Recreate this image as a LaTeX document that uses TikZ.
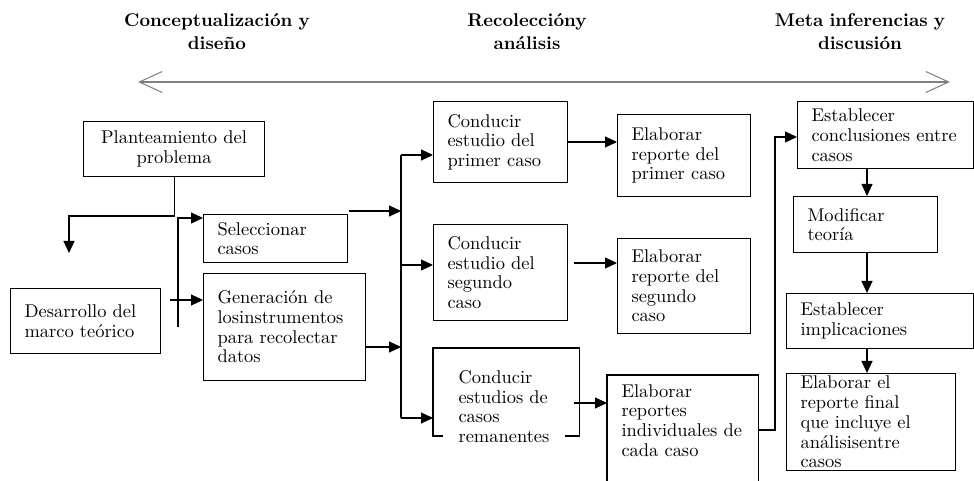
\documentclass[tikz,border=0pt]{standalone}
\usetikzlibrary{calc, arrows.meta}

\begin{document}
\begin{tikzpicture}[
  line width=0.6pt,
  box/.style={draw, rectangle, anchor=north west, inner xsep=0.28cm, inner ysep=0pt, align=left, font=\myfontbox},
  phasetitle/.style={align=center, text width=4.2cm, font=\myfonttitle},
  arr/.style={-{Triangle[length=0.24cm, width=0.22cm]}},
  phase/.style={gray, {Straight Barb[length=0.46cm, width=0.42cm]}-{Straight Barb[length=0.46cm, width=0.42cm]}}
]
\newcommand{\myfontbox}{\fontsize{10.5}{11.2}\selectfont}
\newcommand{\myfonttitle}{\fontsize{10.5}{13}\selectfont\bfseries}
\clip (0,0) rectangle (19.48,-9.62);
%Phases at the top
\node[phasetitle] (fase1) at (4.34,-0.63) {Conceptualizaci\'{o}n y\\dise\~{n}o};
\node[phasetitle] (fase2) at (10.54,-0.63) {Recolecci\'{o}ny\\an\'{a}lisis};
\node[phasetitle] (fase3) at (17.20,-0.63) {Meta inferencias y\\discusi\'{o}n};
\coordinate (phaseleft) at (2.76,-1.64);
\coordinate (phaseright) at (19.00,-1.64);
\draw[phase] (phaseleft) -- (phaseright);
%Conceptualization boxes
\node[box, minimum width=3.62cm, minimum height=1.10cm, text width=3.06cm, align=center] (plant) at (1.66,-2.42) {Planteamiento del\\problema};
\node[box, minimum width=3.00cm, minimum height=1.30cm, text width=2.44cm] (marco) at (0.20,-5.76) {Desarrollo del\\marco teórico};
\node[box, minimum width=2.88cm, minimum height=0.96cm, text width=2.32cm] (selec) at (4.06,-4.28) {Seleccionar\\casos};
\node[box, minimum width=3.24cm, minimum height=2.14cm, text width=2.68cm] (instr) at (4.06,-5.46) {Generación de\\losinstrumentos\\para recolectar\\datos};
%Collection boxes
\node[box, minimum width=2.68cm, minimum height=1.62cm, text width=2.12cm] (cond1) at (8.66,-2.02) {Conducir\\estudio del\\primer caso};
\node[box, minimum width=2.66cm, minimum height=1.64cm, text width=2.10cm] (elab1) at (12.34,-2.28) {Elaborar\\reporte del\\primer caso};
\node[box, minimum width=2.68cm, minimum height=1.92cm, text width=2.12cm] (cond2) at (8.66,-4.48) {Conducir\\estudio del\\segundo\\caso};
\node[box, minimum width=2.66cm, minimum height=1.90cm, text width=2.10cm] (elab2) at (12.34,-4.76) {Elaborar\\reporte del\\segundo\\caso};
\node[box, draw=none, minimum width=2.90cm, minimum height=2.32cm, inner xsep=0.5cm, text width=1.90cm] (cond3) at (8.66,-6.96) {Conducir\\estudios de\\casos\\remanentes};
\draw (8.86,-8.72) -- (cond3.north west |- 0,-8.72) -- (cond3.north west) -- (cond3.north east) -- (cond3.north east |- 0,-8.72) -- (11.30,-8.72);
\node[box, draw=none, minimum width=3.00cm, minimum height=1.80cm, text width=2.44cm] (elab3) at (12.14,-7.50) {Elaborar\\reportes\\individuales de\\cada caso};
\draw ($(elab3.south west)+(0,-0.6)$) |- (elab3.north east) -- ($(elab3.south east)+(0,-0.6)$);
%Meta inference boxes
\node[box, minimum width=3.52cm, minimum height=1.34cm, text width=2.96cm] (concl) at (15.94,-2.02) {Establecer\\conclusiones entre\\casos};
\node[box, minimum width=2.88cm, minimum height=1.12cm, text width=2.32cm] (modif) at (15.86,-3.92) {Modificar\\teoría};
\node[box, minimum width=3.74cm, minimum height=1.10cm, text width=3.18cm] (impl) at (15.72,-5.86) {Establecer\\implicaciones};
\node[box, minimum width=3.38cm, minimum height=1.94cm, text width=2.82cm] (final) at (15.72,-7.46) {Elaborar el\\reporte final\\que incluye el\\análisisentre\\casos};
%Planteamiento down to the theory
\coordinate (marcotip) at (1.38,-5.06);
\draw[arr] (plant.south) |- (marcotip |- 0,-4.32) -- (marcotip);
%Split towards selection and instruments
\coordinate (splitlow) at (3.56,-6.54);
\coordinate (splittop) at (3.56,-4.36);
\draw[arr] (splitlow) -- (splittop) -- (selec.west |- splittop);
\coordinate (marcoout) at (3.40,-6.00);
\draw[arr] (marcoout) -- (instr.west |- marcoout);
%Trunk to the case studies
\coordinate (trunktop) at (8.02,-3.10);
\coordinate (trunkmid) at (8.02,-5.30);
\coordinate (trunklow) at (8.02,-8.36);
\draw (trunktop) -- (trunklow);
\draw[arr] (trunktop) -- (cond1.west |- trunktop);
\draw[arr] (trunkmid) -- (cond2.west |- trunkmid);
\draw[arr] (trunklow) -- (cond3.west |- trunklow);
\coordinate (selecout) at (6.98,-4.22);
\draw[arr] (selecout) -- (trunktop |- selecout);
\draw[arr] (instr.east |- 0,-6.94) -- (trunktop |- 0,-6.94);
%Case studies to reports
\coordinate (cond2out) at (11.48,-5.26);
\coordinate (cond3out) at (11.48,-8.06);
\draw[arr] (cond1.east |- 0,-2.84) -- (elab1.west |- 0,-2.84);
\draw[arr] (cond2out) -- (elab2.west |- cond2out);
\draw[arr] (cond3out) -- (elab3.west |- cond3out);
%Reports to conclusions
\coordinate (bendx) at (15.50,-8.60);
\draw[arr] (elab3.east |- bendx) -- (bendx) |- (concl.west |- 0,-2.74);
\draw[arr] (concl.south -| 17.34,0) -- (modif.north -| 17.34,0);
\draw[arr] (modif.south -| 17.34,0) -- (impl.north -| 17.34,0);
\draw[arr] (impl.south -| 17.34,0) -- (final.north -| 17.34,0);
\end{tikzpicture}
\end{document}
